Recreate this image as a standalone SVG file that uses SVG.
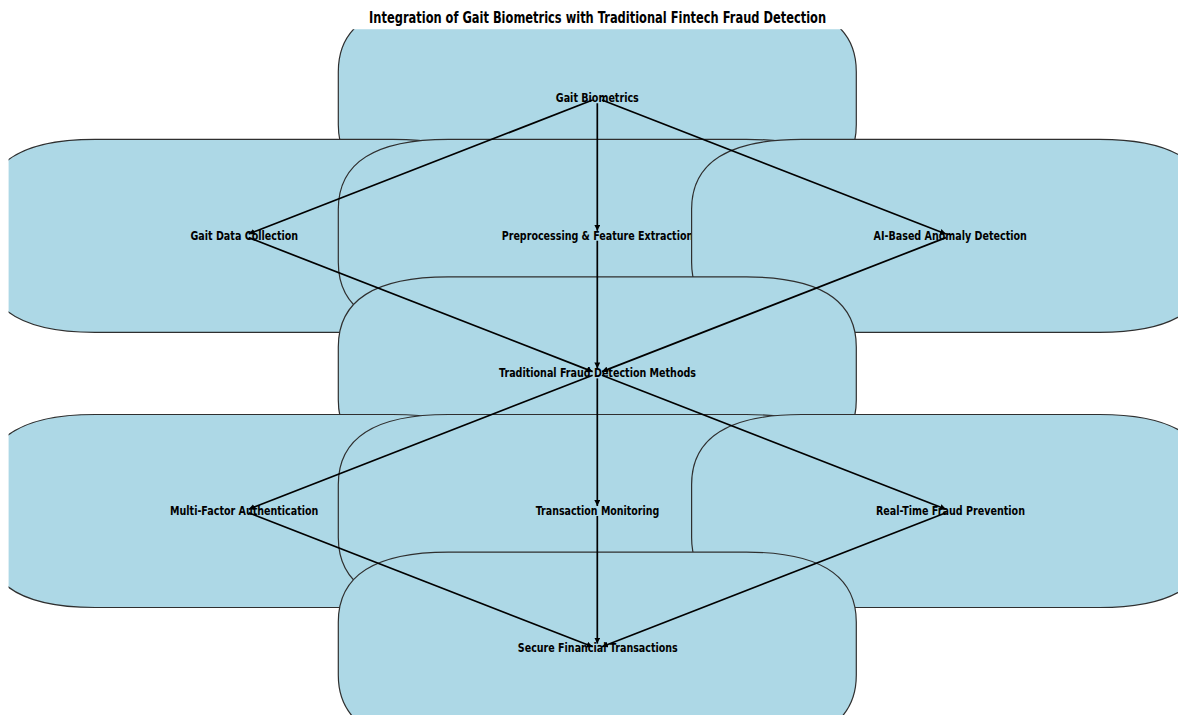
<svg xmlns="http://www.w3.org/2000/svg" xmlns:xlink="http://www.w3.org/1999/xlink" width="1178" height="715" viewBox="0 0 1178 715">
<style>
  .box { fill: #add8e6; stroke: #2f2f2f; stroke-width: 1.2; }
  .lbl { font-family: "DejaVu Sans", "Liberation Sans", sans-serif; font-weight: bold; font-size: 11.5px; fill: #000; text-anchor: middle; }
  .title { font-family: "DejaVu Sans", "Liberation Sans", sans-serif; font-weight: bold; font-size: 16px; fill: #000; text-anchor: middle; }
  .edge { stroke: #000; stroke-width: 1.7; fill: none; marker-end: url(#arrow); }
</style>
<defs>
  <clipPath id="axes"><rect x="8.6" y="29.3" width="1169.4" height="685.7"/></clipPath>
  <path id="box" d="M -149,-96.5 H 149 Q 259,-96.5 259,-26.5 V 26.5 Q 259,96.5 149,96.5 H -149 Q -259,96.5 -259,26.5 V -26.5 Q -259,-96.5 -149,-96.5 Z"/>
  <marker id="arrow" markerUnits="userSpaceOnUse" viewBox="0 0 6 6" markerWidth="6" markerHeight="6" refX="6" refY="3" orient="auto">
    <path d="M0,0 L6,3 L0,6 Z" fill="#000"/>
  </marker>
</defs>
<rect x="0" y="0" width="1178" height="715" fill="#ffffff"/>
<text class="title" x="597.6" y="22.7" textLength="457" lengthAdjust="spacingAndGlyphs">Integration of Gait Biometrics with Traditional Fintech Fraud Detection</text>
<g clip-path="url(#axes)">
  <g id="node-gait-biometrics">
    <use xlink:href="#box" class="box" transform="translate(597.3,98.2)"/>
    <text class="lbl" x="597.3" y="101.9" textLength="83" lengthAdjust="spacingAndGlyphs">Gait Biometrics</text>
  </g>
  <g id="node-gait-data-collection">
    <use xlink:href="#box" class="box" transform="translate(244,235.8)"/>
    <text class="lbl" x="244.3" y="239.5" textLength="107.6" lengthAdjust="spacingAndGlyphs">Gait Data Collection</text>
  </g>
  <g id="node-preprocessing">
    <use xlink:href="#box" class="box" transform="translate(597.3,235.8)"/>
    <text class="lbl" x="597.5" y="239.5" textLength="191.6" lengthAdjust="spacingAndGlyphs">Preprocessing &amp; Feature Extraction</text>
  </g>
  <g id="node-ai-anomaly">
    <use xlink:href="#box" class="box" transform="translate(950.6,235.8)"/>
    <text class="lbl" x="950.2" y="239.5" textLength="153.3" lengthAdjust="spacingAndGlyphs">AI-Based Anomaly Detection</text>
  </g>
  <g id="node-traditional">
    <use xlink:href="#box" class="box" transform="translate(597.3,373.4)"/>
    <text class="lbl" x="597.5" y="377.1" textLength="197" lengthAdjust="spacingAndGlyphs">Traditional Fraud Detection Methods</text>
  </g>
  <g id="node-mfa">
    <use xlink:href="#box" class="box" transform="translate(244,511)"/>
    <text class="lbl" x="244.2" y="514.8" textLength="148.3" lengthAdjust="spacingAndGlyphs">Multi-Factor Authentication</text>
  </g>
  <g id="node-transaction-monitoring">
    <use xlink:href="#box" class="box" transform="translate(597.3,511)"/>
    <text class="lbl" x="597.5" y="514.8" textLength="123.6" lengthAdjust="spacingAndGlyphs">Transaction Monitoring</text>
  </g>
  <g id="node-realtime">
    <use xlink:href="#box" class="box" transform="translate(950.6,511)"/>
    <text class="lbl" x="950.5" y="514.8" textLength="149" lengthAdjust="spacingAndGlyphs">Real-Time Fraud Prevention</text>
  </g>
  <g id="node-secure">
    <use xlink:href="#box" class="box" transform="translate(597.3,648.6)"/>
    <text class="lbl" x="597.8" y="652.3" textLength="160" lengthAdjust="spacingAndGlyphs">Secure Financial Transactions</text>
  </g>
  <g id="connectors">
    <line class="edge" x1="592.64" y1="100.01" x2="248.66" y2="233.99"/>
    <line class="edge" x1="597.3" y1="103.2" x2="597.3" y2="230.8"/>
    <line class="edge" x1="601.96" y1="100.01" x2="945.94" y2="233.99"/>
    <line class="edge" x1="248.66" y1="237.61" x2="592.64" y2="371.59"/>
    <line class="edge" x1="597.3" y1="240.8" x2="597.3" y2="368.4"/>
    <line class="edge" x1="945.94" y1="237.61" x2="601.96" y2="371.59"/>
    <line class="edge" x1="592.64" y1="375.21" x2="248.66" y2="509.19"/>
    <line class="edge" x1="597.3" y1="378.4" x2="597.3" y2="506"/>
    <line class="edge" x1="601.96" y1="375.21" x2="945.94" y2="509.19"/>
    <line class="edge" x1="248.66" y1="512.81" x2="592.64" y2="646.79"/>
    <line class="edge" x1="597.3" y1="516" x2="597.3" y2="643.6"/>
    <line class="edge" x1="945.94" y1="512.81" x2="601.96" y2="646.79"/>
  </g>
</g>
</svg>
